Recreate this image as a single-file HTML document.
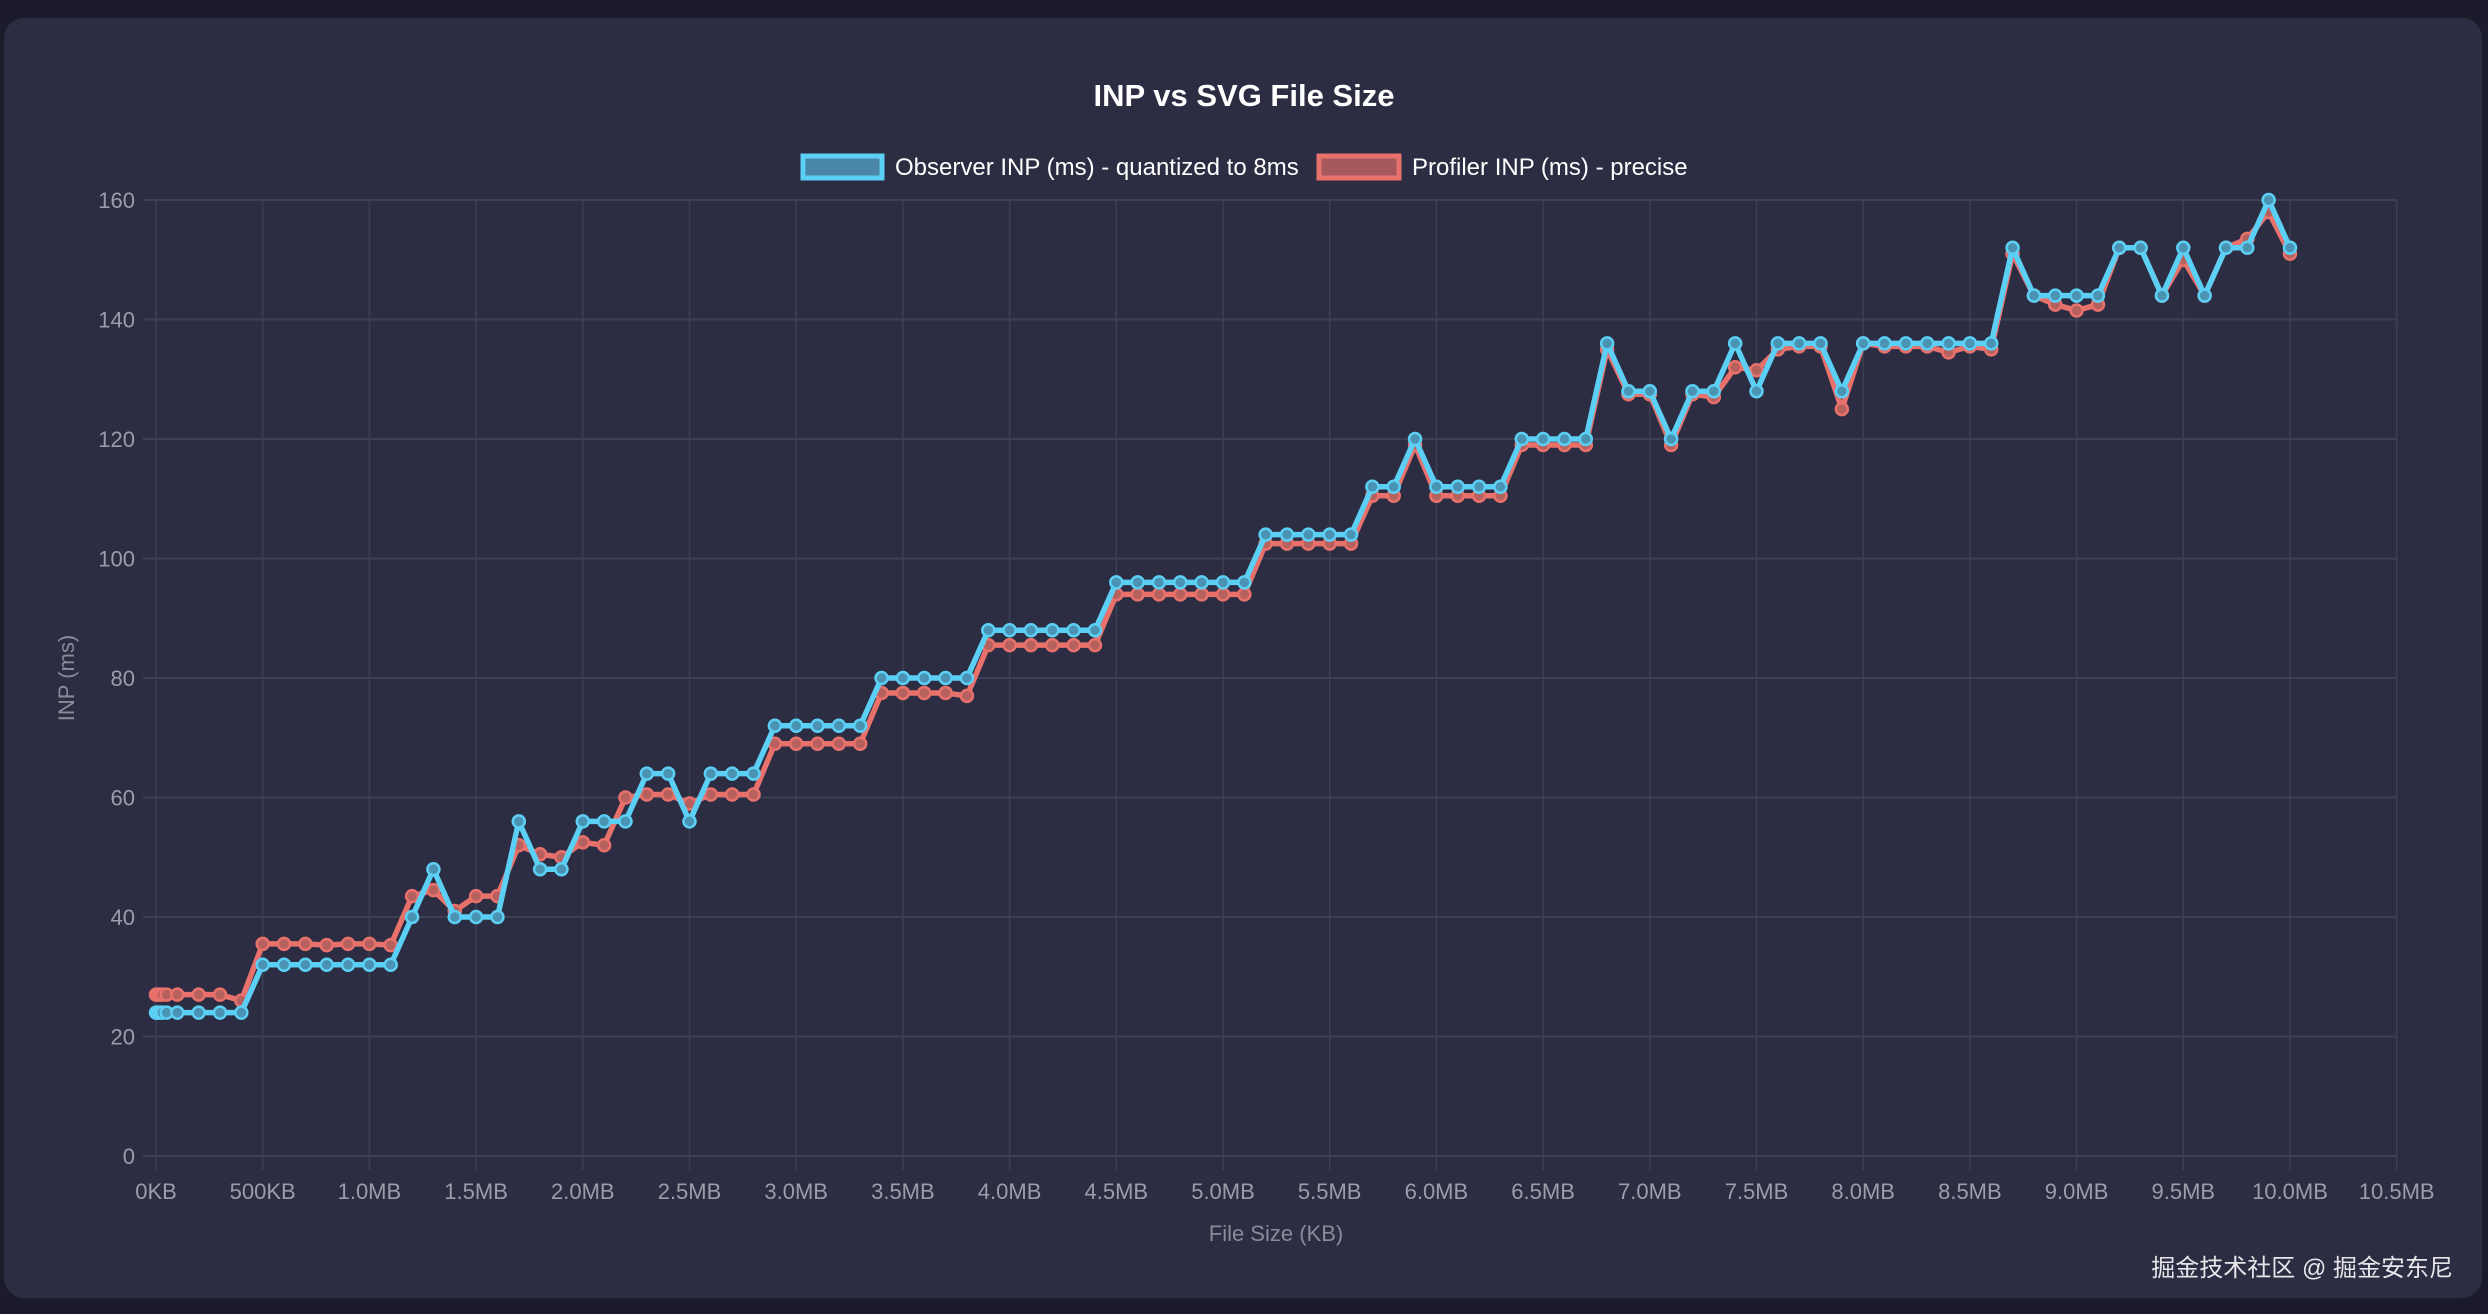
<!DOCTYPE html>
<html><head><meta charset="utf-8">
<style>
html,body{margin:0;padding:0;background:#1b1b2b;width:2488px;height:1314px;overflow:hidden;}
.card{position:absolute;left:4px;top:18px;width:2478px;height:1280px;background:#2c2d42;border-radius:20px;}
svg{position:absolute;left:0;top:0;}
text{font-family:"Liberation Sans","Noto Sans CJK SC",sans-serif;}
</style></head><body>
<div class="card"></div>
<svg id="s" width="2488" height="1314" xmlns="http://www.w3.org/2000/svg"></svg>
<script>
const X0=156,XS=106.7/500,Y0=1156,YS=(1156-200)/160;
const X=k=>X0+k*XS, Y=v=>Y0-v*YS;
let h='';
for(let i=0;i<=21;i++){const x=X(i*500);h+=`<line x1="${x}" y1="200" x2="${x}" y2="1170" stroke="#3d3f55" stroke-width="1.5"/>`;
 const lab=i==0?'0KB':i==1?'500KB':(i*0.5).toFixed(1)+'MB';
 h+=`<text x="${x}" y="1199" fill="#9c9cab" font-size="22" text-anchor="middle">${lab}</text>`;}
for(let v=0;v<=160;v+=20){const y=Y(v);h+=`<line x1="143" y1="${y}" x2="2397" y2="${y}" stroke="#3d3f55" stroke-width="2"/>`;
 h+=`<text x="135" y="${y+8}" fill="#9c9cab" font-size="22" text-anchor="end">${v}</text>`;}
const b=[24,24,24,24,24,32,32,32,32,32,32,32,40,48,40,40,40,56,48,48,56,56,56,64,64,56,64,64,64,72,72,72,72,72,80,80,80,80,80,88,88,88,88,88,88,96,96,96,96,96,96,96,104,104,104,104,104,112,112,120,112,112,112,112,120,120,120,120,136,128,128,120,128,128,136,128,136,136,136,128,136,136,136,136,136,136,136,152,144,144,144,144,152,152,144,152,144,152,152,160,152];
const r=[27,27,27,27,26,35.5,35.5,35.5,35.3,35.5,35.5,35.3,43.5,44.5,41,43.5,43.5,52,50.5,50,52.5,52,60,60.5,60.5,59,60.5,60.5,60.5,69,69,69,69,69,77.5,77.5,77.5,77.5,77,85.5,85.5,85.5,85.5,85.5,85.5,94,94,94,94,94,94,94,102.5,102.5,102.5,102.5,102.5,110.5,110.5,119,110.5,110.5,110.5,110.5,119,119,119,119,135,127.5,127.5,119,127.5,127,132,131.5,135,135.5,135.5,125,136,135.5,135.5,135.5,134.5,135.5,135,151,144,142.5,141.5,142.5,152,152,144,150,144,152,153.5,158,151];
const near=[0,5,10,20,30,50];
function series(arr,first,col,fill){
 let pts=[];near.forEach(k=>pts.push([X(k),Y(first)]));
 for(let i=1;i<arr.length;i++)pts.push([X(i*100),Y(arr[i])]);
 let s=`<polyline points="${pts.map(p=>p.join(',')).join(' ')}" fill="none" stroke="${col}" stroke-width="5.5" stroke-linejoin="round"/>`;
 pts.forEach(p=>s+=`<circle cx="${p[0]}" cy="${p[1]}" r="6" fill="${fill}" stroke="${col}" stroke-width="2.5"/>`);
 return s;}
h+=series(r,27,'#e8716b','#b7615f');
h+=series(b,24,'#5ccff5','#4a93b3');
h+=`<text x="1244" y="106" fill="#ffffff" font-size="31" font-weight="bold" text-anchor="middle">INP vs SVG File Size</text>`;
h+=`<rect x="803" y="156" width="79" height="22" fill="#4a87a6" stroke="#5ccff5" stroke-width="5"/>`;
h+=`<text x="895" y="175" fill="#ffffff" font-size="24">Observer INP (ms) - quantized to 8ms</text>`;
h+=`<rect x="1319" y="156" width="80" height="22" fill="#a5595c" stroke="#e8716b" stroke-width="5"/>`;
h+=`<text x="1412" y="175" fill="#ffffff" font-size="24">Profiler INP (ms) - precise</text>`;
h+=`<text transform="translate(74,678) rotate(-90)" fill="#8a8a9a" font-size="22" text-anchor="middle">INP (ms)</text>`;
h+=`<text x="1276" y="1241" fill="#8a8a9a" font-size="22" text-anchor="middle">File Size (KB)</text>`;
h+=`<text x="2453" y="1276" fill="#e6e6ea" font-size="24" text-anchor="end">掘金技术社区 @ 掘金安东尼</text>`;
document.getElementById('s').innerHTML=h;
</script>
</body></html>
